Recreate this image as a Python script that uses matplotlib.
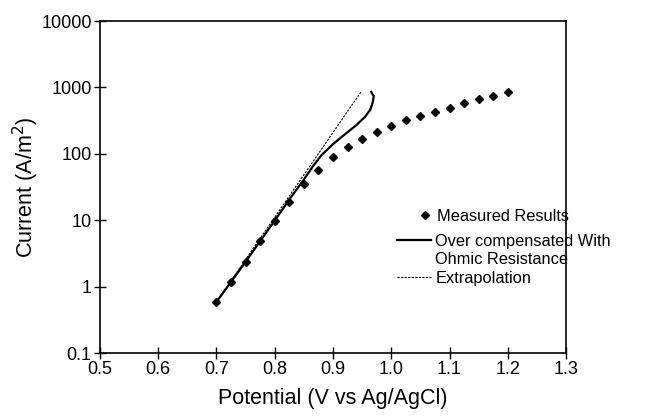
import numpy as np
import matplotlib
matplotlib.use("Agg")
import matplotlib.pyplot as plt
from matplotlib.lines import Line2D

plt.rcParams['font.family'] = ['Liberation Sans', 'DejaVu Sans']

# Measured polarisation data
meas_v = [0.700, 0.725, 0.750, 0.775, 0.800, 0.825, 0.850, 0.875, 0.900, 0.925,
          0.950, 0.975, 1.000, 1.025, 1.050, 1.075, 1.100, 1.125, 1.150, 1.175, 1.200]
meas_i = [0.59, 1.18, 2.37, 4.86, 9.9, 19.1, 35.5, 58, 90, 128,
          169, 213, 265, 320, 372, 432, 496, 577, 671, 754, 857]

# Over compensated curve (with ohmic resistance)
ohm_v = [0.700, 0.725, 0.750, 0.775, 0.800, 0.825, 0.850, 0.865, 0.880, 0.900,
         0.920, 0.940, 0.955, 0.964, 0.968, 0.970, 0.9655]
ohm_i = [0.59, 1.18, 2.37, 4.86, 9.9, 20.5, 41, 64, 95, 140,
         195, 270, 360, 463, 585, 737, 857]

# Tafel extrapolation
ext_v = [0.700, 0.948]
ext_i = [0.59, 857]

fig = plt.figure(figsize=(6.57, 4.16), dpi=100)
ax = fig.add_axes([0.1522, 0.1514, 0.7093, 0.7981])

ax.plot(ext_v, ext_i, color='black', lw=0.8, ls=(0, (2, 1.2)))
ax.plot(ohm_v, ohm_i, color='black', lw=1.6)
ax.plot(meas_v, meas_i, ls='none', marker='D', ms=4.1, color='black')

ax.set_yscale('log')
ax.set_xlim(0.5, 1.3)
ax.set_ylim(0.1, 10000)
ax.set_xticks(np.arange(0.5, 1.31, 0.1))
ax.set_xticklabels(['0.5', '0.6', '0.7', '0.8', '0.9', '1.0', '1.1', '1.2', '1.3'])
ax.set_yticks([0.1, 1, 10, 100, 1000, 10000])
ax.set_yticklabels(['0.1', '1', '10', '100', '1000', '10000'])
ax.yaxis.set_minor_locator(matplotlib.ticker.NullLocator())
ax.tick_params(direction='inout', length=8, width=1, labelsize=13, pad=2)
for s in ax.spines.values():
    s.set_linewidth(1.2)

ax.set_xlabel('Potential (V vs Ag/AgCl)', fontsize=15.5, labelpad=7)
ax.set_ylabel('Current (A/m$^2$)', fontsize=15.5, labelpad=0)

leg1 = ax.legend([Line2D([], [], ls='none', marker='D', ms=4.1, color='black')],
                 ['Measured Results'], loc='upper left', bbox_to_anchor=(0.677, 0.434),
                 frameon=False, fontsize=11.8, handlelength=1.2, handletextpad=0.1,
                 borderaxespad=0, borderpad=0)
ax.add_artist(leg1)
ax.legend([Line2D([], [], color='black', lw=1.6),
           Line2D([], [], ls='none'),
           Line2D([], [], color='black', lw=0.8, ls=(0, (2, 1.2)))],
          ['Over compensated With', 'Ohmic Resistance', 'Extrapolation'],
          loc='upper left', bbox_to_anchor=(0.637, 0.358),
          frameon=False, fontsize=11.8, handlelength=2.1, handletextpad=0.25,
          labelspacing=0.2, borderaxespad=0, borderpad=0)

fig.savefig('out.png', dpi=100)
